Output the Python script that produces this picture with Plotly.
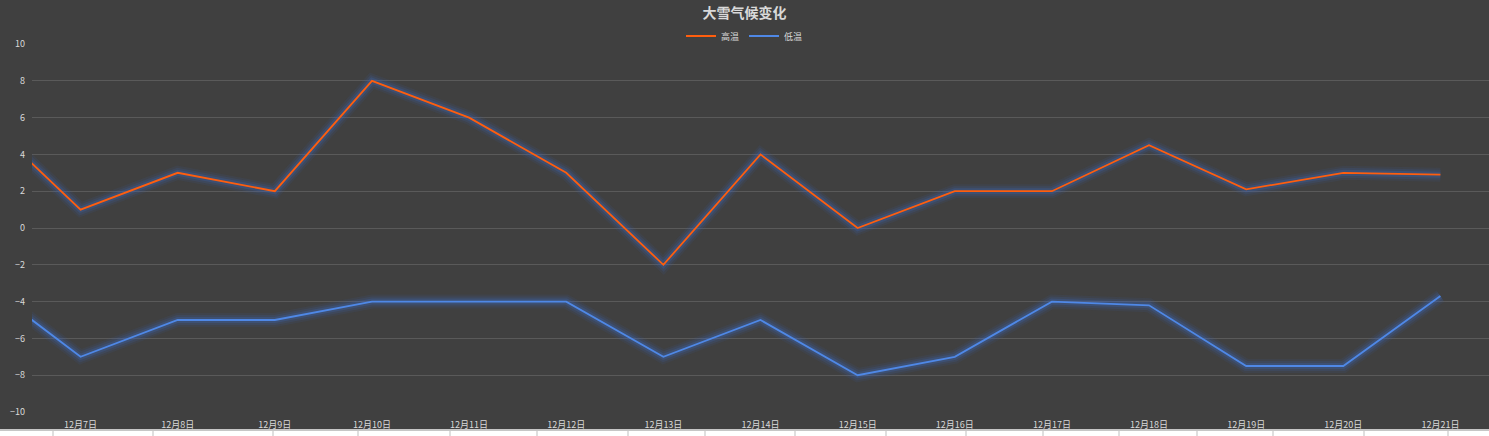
import plotly.graph_objects as go

# ---- data ----
dates = ["12月6日", "12月7日", "12月8日", "12月9日", "12月10日", "12月11日", "12月12日",
         "12月13日", "12月14日", "12月15日", "12月16日", "12月17日", "12月18日",
         "12月19日", "12月20日", "12月21日"]
high = [6, 1, 3, 2, 8, 6, 3, -2, 4, 0, 2, 2, 4.5, 2.1, 3, 2.9]
low = [-3, -7, -5, -5, -4, -4, -4, -7, -5, -8, -7, -4, -4.2, -7.5, -7.5, -3.7]
y_ticks = [-10, -8, -6, -4, -2, 0, 2, 4, 6, 8, 10]

W, H = 1489, 436
ML, MR, MT, MB = 32, 0, 44, 24
BG = "#404040"
ORANGE = "#FF5E0E"
BLUE = "#4F88E6"
GLOW = "60,100,180"
FONT = "Noto Sans CJK SC"

idx = list(range(len(dates)))
fig = go.Figure()

for name, vals, col in [("高温", high, ORANGE), ("低温", low, BLUE)]:
    for w, a in [(14, 0.10), (10, 0.16), (6, 0.28)]:
        fig.add_trace(go.Scatter(x=idx, y=vals, mode="lines", showlegend=False,
                                 hoverinfo="skip",
                                 line=dict(color=f"rgba({GLOW},{a})", width=w)))
for name, vals, col in [("高温", high, ORANGE), ("低温", low, BLUE)]:
    fig.add_trace(go.Scatter(x=idx, y=vals, mode="lines", name=name,
                             line=dict(color=col, width=1.8)))

# spreadsheet strip at bottom (decoration of the screenshot)
plot_h = H - MT - MB
plot_w = W - ML - MR
def px_x(p):
    return (p - ML) / plot_w
def px_y(p):
    return (H - MB - p) / plot_h
shapes = [dict(type="rect", xref="paper", yref="paper", x0=px_x(0), x1=px_x(W),
               y0=px_y(430), y1=px_y(437), fillcolor="#ffffff",
               line=dict(width=0), layer="above"),
          dict(type="line", xref="paper", yref="paper", x0=px_x(0), x1=px_x(W),
               y0=px_y(430), y1=px_y(430), line=dict(color="#c6c6c6", width=2))]
for p in [53, 153, 273, 358, 450, 537, 628, 705, 795, 886, 966, 1043, 1119, 1197, 1273, 1364, 1448]:
    shapes.append(dict(type="line", xref="paper", yref="paper", x0=px_x(p), x1=px_x(p),
                       y0=px_y(431), y1=px_y(437), line=dict(color="#bfbfbf", width=1)))

fig.update_layout(
    width=W, height=H,
    paper_bgcolor=BG, plot_bgcolor=BG,
    margin=dict(l=ML, r=MR, t=MT, b=MB, autoexpand=False),
    font=dict(family=FONT, color="#d9d9d9", size=9),
    title=dict(text="<b>大雪气候变化</b>", x=0.5, xanchor="center", y=1 - 13 / H,
               yanchor="middle", font=dict(size=14, color="#d9d9d9", family=FONT)),
    legend=dict(orientation="h", x=0.5, xref="container", xanchor="center",
                y=1 - 36 / H, yref="container", yanchor="middle",
                font=dict(size=9, color="#d9d9d9"), bgcolor="rgba(0,0,0,0)",
                itemwidth=30, tracegroupgap=0),
    xaxis=dict(range=[0.5, 15.5], tickmode="array", tickvals=idx[1:], ticktext=dates[1:],
               showgrid=False, zeroline=False, showline=False, ticks="",
               ticklabelstandoff=6, automargin=False,
               tickfont=dict(size=9, color="#d9d9d9")),
    yaxis=dict(range=[-10, 10], tickvals=y_ticks, showgrid=True, gridcolor="#5a5a5a",
               gridwidth=1, zeroline=False, showline=False, ticks="", ticklabelstandoff=6,
               automargin=False, tickfont=dict(size=9, color="#d9d9d9")),
    shapes=shapes,
    showlegend=True,
)

fig.write_html("out.html")
